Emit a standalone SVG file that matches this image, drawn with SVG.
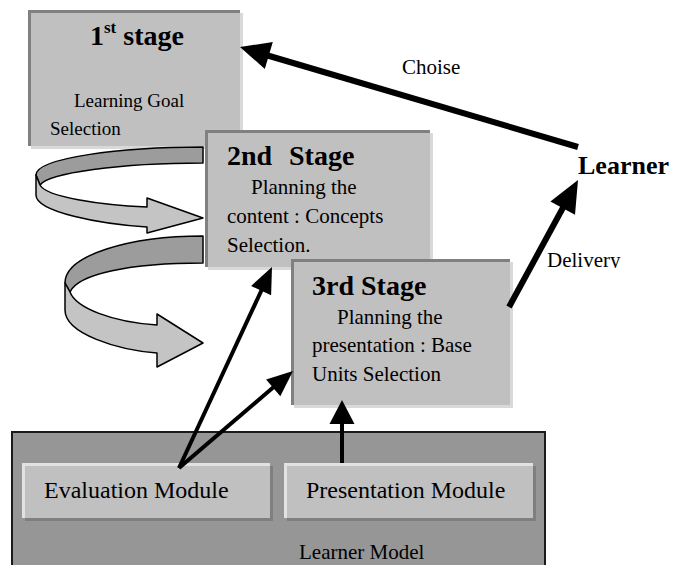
<svg xmlns="http://www.w3.org/2000/svg" width="686" height="565" viewBox="0 0 686 565" font-family="Liberation Serif, Times New Roman, serif">
<style>
  text, tspan { font-family: 'Liberation Serif', 'Times New Roman', serif; fill: #000; }
  .title { font-size: 28px; font-weight: bold; }
  .body { font-size: 21px; }
  .b1 { font-size: 19px; }
  .mod { font-size: 24px; }
  .lbl { font-size: 21px; }
  .stage-fill { fill: #c0c0c0; }
  .stage-shadow { fill: #d9d9d9; }
  .stage-edge { fill: none; stroke: #808080; stroke-width: 3; }
  .mod-fill { fill: #c0c0c0; }
  .mod-shadow { fill: #7f7f7f; }
  .mod-hi { fill: none; stroke: #e2e2e2; stroke-width: 3; }
  .rib-dark { fill: #9c9c9c; stroke: #000; stroke-width: 1.5; stroke-linejoin: round; }
  .rib-light { fill: #c4c4c4; stroke: #000; stroke-width: 1.5; stroke-linejoin: round; }
  .ln { stroke: #000; stroke-width: 4; fill: none; }
  .ln-thick { stroke: #000; stroke-width: 6; fill: none; }
  .head { fill: #000; }
</style>
<defs>
  <clipPath id="clipDel"><rect x="540" y="240" width="100" height="28"/></clipPath>
</defs>
<rect width="686" height="565" fill="#fff"/>

<g id="learner-model">
  <rect x="12" y="432" width="533" height="140" fill="#969696" stroke="#1a1a1a" stroke-width="2"/>
  <text class="lbl" x="299" y="559" font-family="Liberation Serif, serif">Learner Model</text>
</g>

<g id="evaluation-module">
  <rect class="mod-shadow" x="25" y="466" width="248" height="55"/>
  <rect class="mod-fill" x="22" y="463" width="248" height="55"/>
  <path class="mod-hi" d="M23.5,518 V464.5 H270"/>
  <text class="mod" x="44" y="498" font-family="Liberation Serif, serif">Evaluation Module</text>
</g>

<g id="presentation-module">
  <rect class="mod-shadow" x="287" y="466" width="249" height="55"/>
  <rect class="mod-fill" x="284" y="463" width="249" height="55"/>
  <path class="mod-hi" d="M285.5,518 V464.5 H533"/>
  <text class="mod" x="306" y="498" font-family="Liberation Serif, serif">Presentation Module</text>
</g>

<g id="stage1">
  <rect class="stage-shadow" x="31" y="13" width="212" height="136"/>
  <rect class="stage-fill" x="28" y="10" width="212" height="136"/>
  <path class="stage-edge" d="M29.5,146 V11.5 H240"/>
  <text class="title" x="90" y="45" font-family="Liberation Serif, serif">1<tspan font-size="17" dy="-12">st</tspan><tspan dy="12"> stage</tspan></text>
  <text class="b1" x="74" y="107" font-family="Liberation Serif, serif">Learning Goal</text>
  <text class="b1" x="50" y="135" font-family="Liberation Serif, serif">Selection</text>
</g>

<g id="ribbon1">
  <path class="rib-dark" d="M203,147 C120,147 36,158 36,175 L40,185 C48,173 120,163 203,163 Z"/>
  <path class="rib-light" d="M36,175 L36,195 C36,212 100,224 147,227 L147,233 L203,218 L147,198 L147,207 C100,205 46,197 40,185 Z"/>
</g>

<g id="stage2">
  <rect class="stage-shadow" x="208" y="133" width="225" height="137"/>
  <rect class="stage-fill" x="205" y="130" width="225" height="137"/>
  <path class="stage-edge" d="M206.5,267 V131.5 H430"/>
  <text class="title" x="227" y="165" font-family="Liberation Serif, serif">2nd<tspan x="289">Stage</tspan></text>
  <text class="body" x="251" y="194" font-family="Liberation Serif, serif">Planning the</text>
  <text class="body" x="227" y="223" font-family="Liberation Serif, serif">content : Concepts</text>
  <text class="body" x="227" y="252" font-family="Liberation Serif, serif">Selection.</text>
</g>

<g id="ribbon2">
  <path class="rib-dark" d="M203,236 C130,236 65,255 65,283 L70,292 C78,274 130,263 203,263 Z"/>
  <path class="rib-light" d="M65,283 L65,310 C65,334 118,350 157,353 L157,367 L203,343 L157,314 L157,325 C112,322 76,308 70,292 Z"/>
</g>

<g id="stage3">
  <rect class="stage-shadow" x="294" y="262" width="219" height="146"/>
  <rect class="stage-fill" x="291" y="259" width="219" height="146"/>
  <path class="stage-edge" d="M292.5,405 V260.5 H510"/>
  <text class="title" x="312" y="295" font-family="Liberation Serif, serif">3rd Stage</text>
  <text class="body" x="337" y="324" font-family="Liberation Serif, serif">Planning the</text>
  <text class="body" x="312" y="352" font-family="Liberation Serif, serif">presentation : Base</text>
  <text class="body" x="312" y="381" font-family="Liberation Serif, serif">Units Selection</text>
</g>

<g id="learner">
  <text class="title" x="578" y="174" font-size="26" style="font-size:26px" font-family="Liberation Serif, serif">Learner</text>
</g>

<g id="connectors">
  <line class="ln-thick" x1="578" y1="147" x2="266" y2="55"/>
  <polygon class="head" points="240,47 272.8,42.1 264.8,68.9"/>
  <text class="lbl" x="402" y="74" font-family="Liberation Serif, serif">Choise</text>

  <line class="ln-thick" x1="509" y1="307" x2="565" y2="204"/>
  <polygon class="head" points="578,180 575,214.8 550.4,201.4"/>
  <text class="lbl" x="547" y="267" clip-path="url(#clipDel)" font-family="Liberation Serif, serif">Delivery</text>

  <line class="ln" x1="179" y1="468" x2="263" y2="287"/>
  <polygon class="head" points="272,267 271.1,295.2 251.1,286"/>

  <line class="ln" x1="179" y1="468" x2="276" y2="385"/>
  <polygon class="head" points="293,371 280.3,396.2 266.1,379.4"/>

  <line class="ln" x1="342" y1="463" x2="342" y2="420"/>
  <polygon class="head" points="342,400 354.5,424 329.5,424"/>
</g>
</svg>
